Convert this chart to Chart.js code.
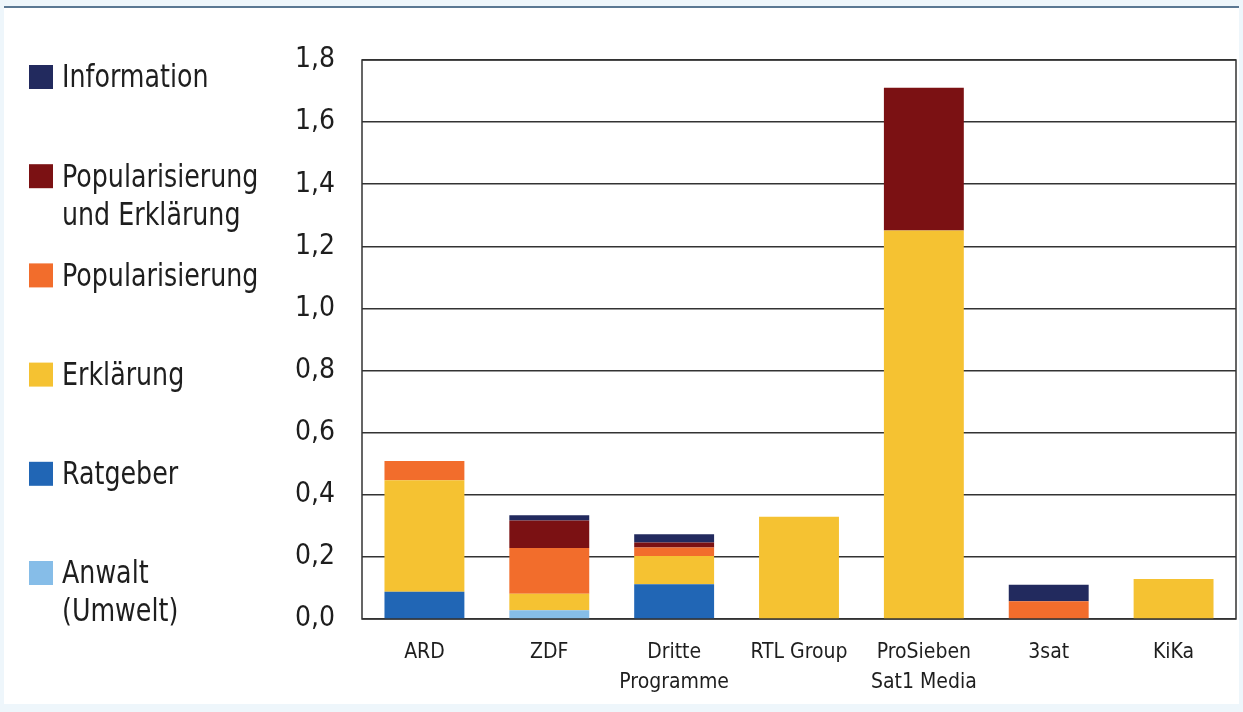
<!DOCTYPE html>
<html>
<head>
<meta charset="utf-8">
<script src="https://cdn.jsdelivr.net/npm/chart.js@4/dist/chart.umd.min.js"></script>
<style>
    html, body { margin: 0; padding: 0; background: #eef6fb; }
    #wrap { position: relative; width: 1243px; height: 712px; overflow: hidden; }
    #panel { position: absolute; left: 4px; top: 6px; width: 1235px; height: 696px; background: #fff; border-top: 2px solid #5b7893; }
    #chart { position: absolute; left: 0; top: 0; }
</style>
</head>
<body>
<div id="wrap">
    <div id="panel"></div>
    <canvas id="chart" width="1243" height="712"></canvas>
</div>
<script>
const categories = ["ARD", "ZDF", ["Dritte", "Programme"], "RTL Group", ["ProSieben", "Sat1 Media"], "3sat", "KiKa"];

// stacked from bottom to top
const anwalt = [0, 0.028, 0, 0, 0, 0, 0];
const ratgeber = [0.088, 0, 0.112, 0, 0, 0, 0];
const erklaerung = [0.359, 0.053, 0.091, 0.329, 1.251, 0, 0.129];
const popularisierung = [0.062, 0.148, 0.027, 0, 0, 0.057, 0];
const popUndErkl = [0, 0.088, 0.016, 0, 0.46, 0, 0];
const information = [0, 0.017, 0.027, 0, 0, 0.053, 0];

const seriesLabels = [["Anwalt", "(Umwelt)"], "Ratgeber", "Erklärung", "Popularisierung", ["Popularisierung", "und Erklärung"], "Information"];
const colors = ["#86bde8", "#2166b5", "#f5c232", "#f26d2c", "#7b1113", "#222a5e"];
const series = [anwalt, ratgeber, erklaerung, popularisierung, popUndErkl, information];

const fontFamily = "'Liberation Sans Narrow', 'DejaVu Sans Condensed', 'Roboto', sans-serif";

// legend on the left, top item first (reverse of stack order)
const sideLegend = {
    id: "sideLegend",
    afterDraw(chart) {
        const ctx = chart.ctx;
        const sets = chart.data.datasets.slice().reverse();
        sets.forEach((ds, i) => {
            const y = 77 + i * 99.2;
            ctx.save();
            ctx.fillStyle = ds.backgroundColor;
            ctx.fillRect(29, y - 12, 24, 24);
            ctx.font = "32px " + fontFamily;
            ctx.fillStyle = "#1e1e1e";
            ctx.textBaseline = "middle";
            ctx.textAlign = "left";
            ctx.translate(62, y + 2);
            ctx.scale(0.88, 1);
            const lines = Array.isArray(ds.label) ? ds.label : [ds.label];
            lines.forEach((line, j) => {
                ctx.fillText(line, 0, j * 38);
            });
            ctx.restore();
        });
    }
};

const frame = {
    id: "frame",
    beforeDatasetsDraw(chart) {
        const a = chart.chartArea;
        const ctx = chart.ctx;
        ctx.save();
        ctx.strokeStyle = "#333";
        ctx.lineWidth = 1.5;
        ctx.strokeRect(a.left, a.top, a.right - a.left, a.bottom - a.top);
        ctx.restore();
    }
};

const canvas = document.getElementById("chart");
const chart = new Chart(canvas, {
    type: "bar",
    data: {
        labels: categories,
        datasets: series.map((values, i) => ({
            label: seriesLabels[i],
            data: values,
            backgroundColor: colors[i],
            borderWidth: 0,
            categoryPercentage: 1,
            barPercentage: 0.64
        }))
    },
    options: {
        responsive: false,
        animation: false,
        devicePixelRatio: 1,
        layout: {
            padding: { left: 290, top: 60, right: 7, bottom: 0 }
        },
        plugins: {
            legend: { display: false },
            tooltip: { enabled: false }
        },
        scales: {
            x: {
                stacked: true,
                grid: { display: false, drawTicks: false },
                border: { display: false },
                ticks: {
                    color: "#1e1e1e",
                    padding: 18,
                    maxRotation: 0,
                    autoSkip: false,
                    font: { family: fontFamily, size: 21, lineHeight: 1.45 }
                },
                afterFit: scale => { scale.height = 93; }
            },
            y: {
                stacked: true,
                min: 0,
                max: 1.8,
                grid: { color: "#333", lineWidth: 1.5, drawTicks: false },
                border: { display: false },
                ticks: {
                    stepSize: 0.2,
                    color: "#1e1e1e",
                    padding: 27,
                    font: { family: fontFamily, size: 28 },
                    callback: value => value.toFixed(1).replace(".", ",")
                },
                afterFit: scale => { scale.width = 72; }
            }
        }
    },
    plugins: [frame, sideLegend]
});
</script>
</body>
</html>
